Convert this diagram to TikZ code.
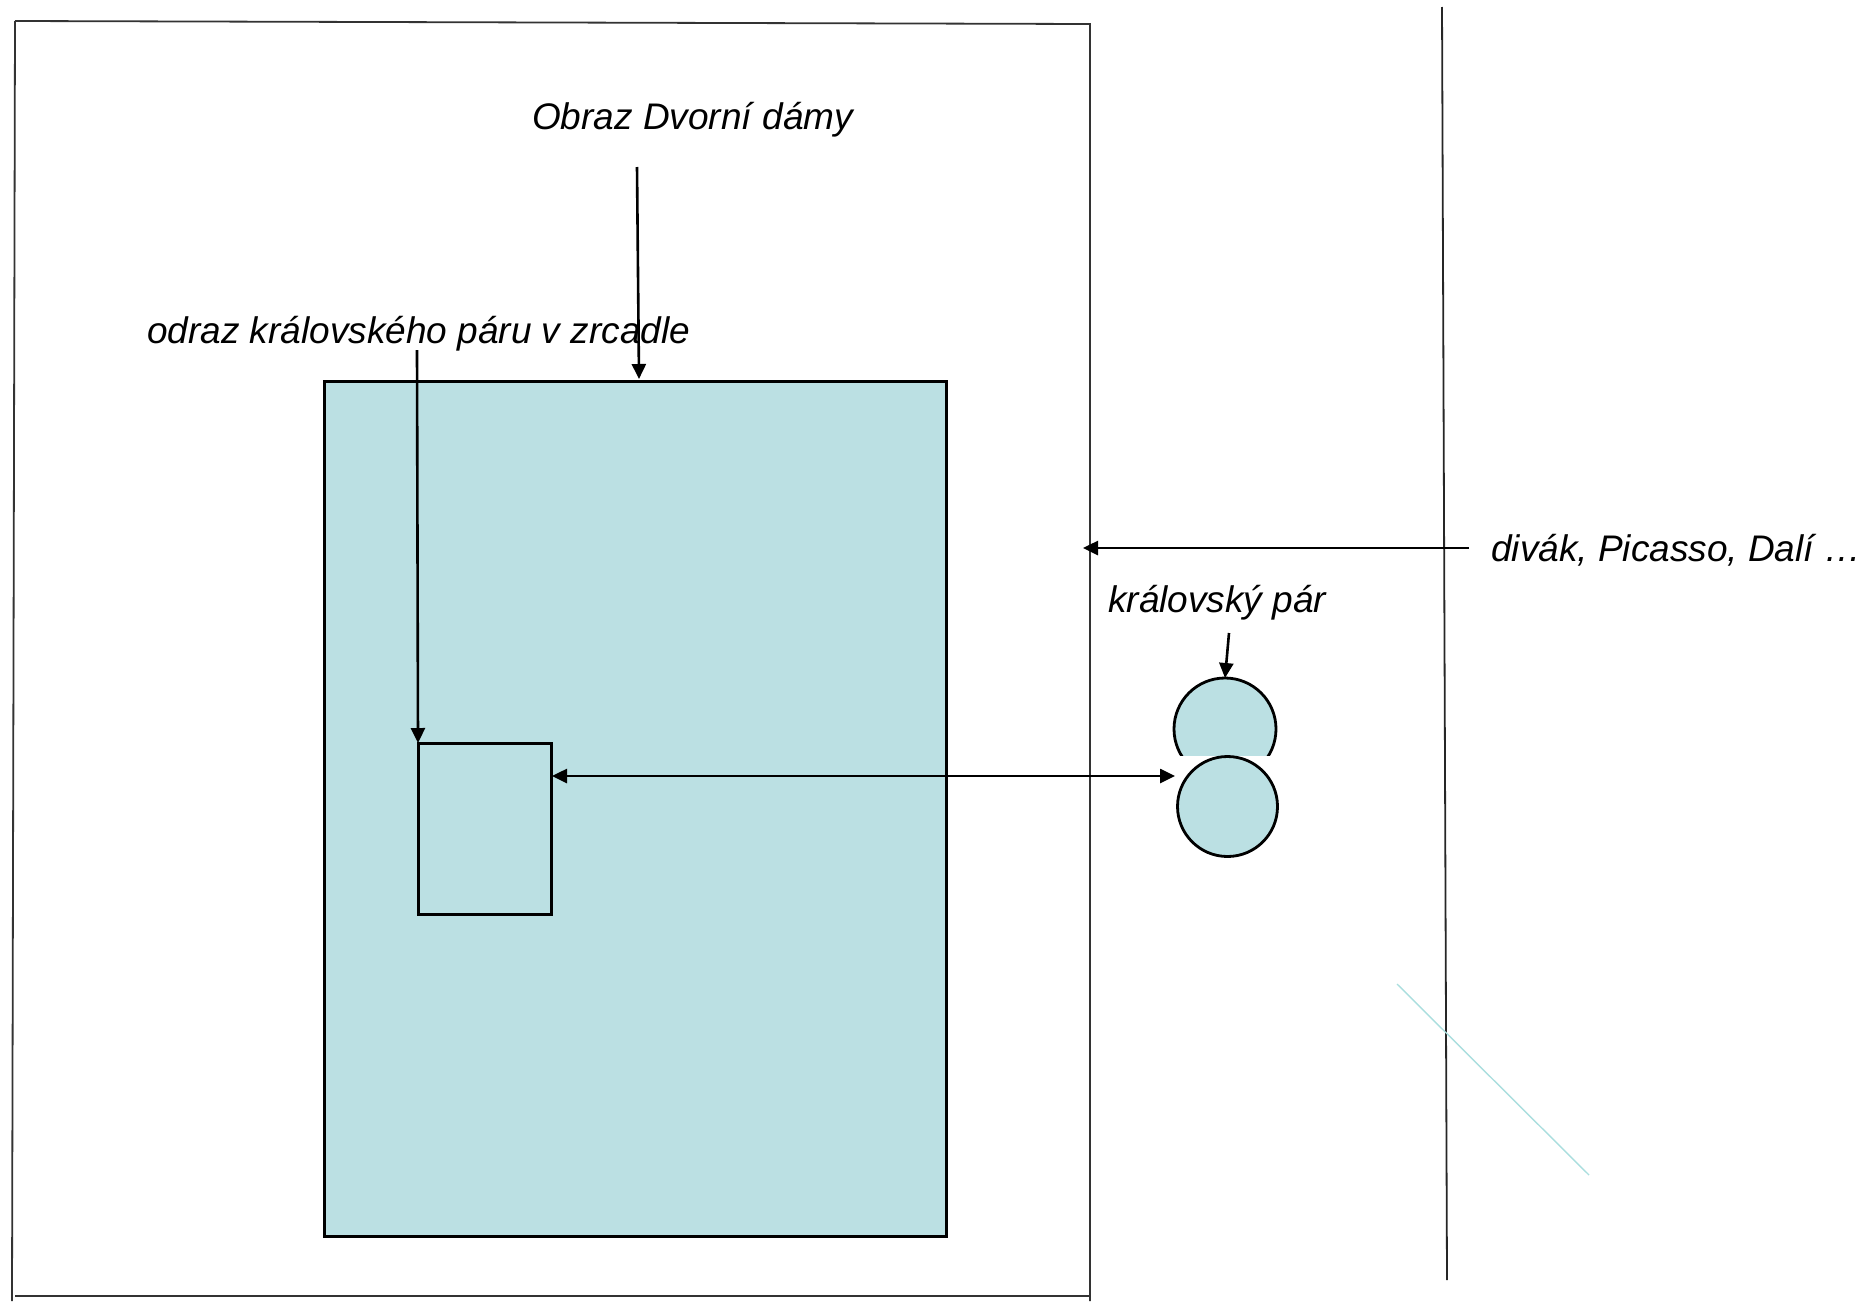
\documentclass[tikz,border=0pt]{standalone}
\usepackage{fontspec}
\setmainfont{Liberation Sans}
\usetikzlibrary{arrows.meta}
\definecolor{paleblue}{RGB}{187,224,227}
\definecolor{diag}{RGB}{170,222,222}
\tikzset{
  frameline/.style={line width=1.8pt, draw=black!80},
  boxed/.style={draw=black, line width=3pt, fill=paleblue, inner sep=0pt, outer sep=0pt},
  ball/.style={circle, draw=black, line width=2.8pt, fill=paleblue, inner sep=0pt, outer sep=0pt},
  arr/.style={line width=2.6pt, -{Triangle[length=15pt,width=14pt]}},
  darr/.style={line width=2.6pt, {Triangle[length=15pt,width=14pt]}-{Triangle[length=15pt,width=14pt]}},
  lbl/.style={font=\fontsize{37}{44}\selectfont\itshape, inner sep=0pt, anchor=base west}
}
\begin{document}
\begin{tikzpicture}[x=1pt,y=-1pt]
\useasboundingbox (0,0) rectangle (1873,1301);
% outer frame
\coordinate (ftl) at (15,21);
\coordinate (ftr) at (1090,24);
\coordinate (fbl) at (12,1301);
\coordinate (fbr) at (1090,1301);
\draw[frameline] (ftl) -- (ftr) -- (fbr);
\draw[frameline] (ftl) -- (fbl);
\draw[frameline] (15,1296) -- (1090,1296);
% right vertical line
\coordinate (vt) at (1442,7);
\coordinate (vb) at (1447,1280);
\draw[line width=1.8pt, draw=black!85] (vt) -- (vb);
% diagonal pale line
\coordinate (dga) at (1397,984);
\coordinate (dgb) at (1589,1175);
\draw[line width=1.4pt, draw=diag] (dga) -- (dgb);
% big picture rectangle
\node[boxed, anchor=north west, minimum width=622pt, minimum height=855pt] (big) at (324,381) {};
% mirror
\node[boxed, anchor=north west, minimum width=133pt, minimum height=171pt] (mirror) at (418,743) {};
% royal couple
\node[ball, minimum size=102pt] (head1) at (1225,729) {};
\fill[white] (1168,756) rectangle (1285,862);
\node[ball, minimum size=100pt] (head2) at (1227.5,806.5) {};
% labels
\node[lbl] (obraz) at (532,129) {Obraz Dvorní dámy};
\node[lbl] (odraz) at (147,343) {odraz královského páru v zrcadle};
\node[lbl] (kral) at (1108,612) {královský pár};
\node[lbl] (divak) at (1491,561) {divák, Picasso, Dalí …};
% connectors
\coordinate (oa) at (637,167);
\coordinate (ob) at (639,379);
\draw[arr] (oa) -- (ob);
\coordinate (ma) at (417,350);
\draw[arr] (ma) -- (mirror.north west);
\coordinate (ka) at (1229,633);
\draw[arr] (ka) -- (head1.north);
\coordinate (va) at (1469,548);
\coordinate (vb2) at (1083,548);
\draw[arr] (va) -- (vb2);
\coordinate (da) at (552,776);
\coordinate (db) at (1175,776);
\draw[darr] (da) -- (db);
\end{tikzpicture}
\end{document}
